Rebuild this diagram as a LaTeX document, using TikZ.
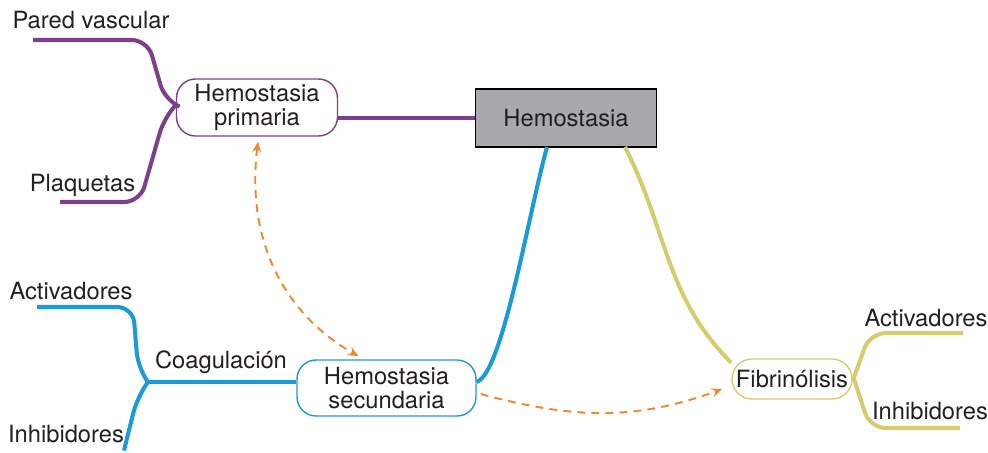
\documentclass[tikz,border=0pt]{standalone}
\usepackage{fontspec}
\setmainfont{TeX Gyre Heros}
\usepackage{tikz}
\usetikzlibrary{arrows.meta,calc}

\definecolor{hpurple}{HTML}{7D3F8C}
\definecolor{hblue}{HTML}{1A9AD7}
\definecolor{holive}{HTML}{D6CC6E}
\definecolor{horange}{HTML}{F5862A}
\definecolor{hgray}{HTML}{A7A9AC}
\definecolor{htext}{HTML}{231F20}

\begin{document}
\begin{tikzpicture}[>={Stealth[length=6pt,width=5pt]},
    txt/.style={text=htext, font=\fontsize{13.5}{14}\selectfont, inner sep=0pt},
    hbox/.style={txt, draw=#1, line width=0.8pt, align=center, rounded corners=0.38cm},
    branch/.style={draw=#1, line width=2.3pt, rounded corners=9pt},
    link/.style={horange, line width=1.1pt, dash pattern=on 4.5pt off 3.5pt}
  ]

    %% Background
    \draw[draw=none] (0,0) rectangle (19.76,8.96);

  % Cajas
  \node[txt, draw=black, fill=hgray, line width=0.7pt, minimum width=3.62cm, minimum height=1.16cm] (hemo) at (11.32,6.60) {Hemostasia};
  \node[hbox=hpurple, minimum width=3.22cm, minimum height=1.14cm] (prim) at (5.14,6.81) {Hemostasia\\primaria};
  \node[hbox=hblue, minimum width=3.58cm, minimum height=1.12cm] (sec) at (7.73,1.20) {Hemostasia\\secundaria};
  \node[hbox=holive, minimum width=2.4cm, minimum height=0.8cm, rounded corners=0.4cm] (fib) at (15.84,1.38) {Fibrinólisis};

  % Textos
  \node[txt] (pared) at (1.82,8.56) {Pared vascular};
  \node[txt] (plaq) at (1.65,5.26) {Plaquetas};
  \node[txt] (actl) at (1.42,3.14) {Activadores};
  \node[txt] (inhl) at (1.32,0.28) {Inhibidores};
  \node[txt] (coag) at (4.42,1.72) {Coagulación};
  \node[txt] (actr) at (18.52,2.60) {Activadores};
  \node[txt] (inhr) at (18.60,0.74) {Inhibidores};

  % Hemostasia primaria
  \coordinate (pj) at ($(prim.west)+(0,0.05)$);
  \draw[branch=hpurple] (prim.east |- hemo) -- (hemo.west);
  \draw[branch=hpurple] (0.66,8.16) -- (2.95,8.16) -- (3.3,6.95) -- (pj);
  \draw[branch=hpurple] (1.2,4.92) -- (2.8,4.92) -- (3.28,6.6) -- (pj);

  % Hemostasia secundaria
  \coordinate (cj) at (2.96,1.32);
  \draw[branch=hblue] (cj) -- (sec.west |- cj);
  \draw[branch=hblue] (0.74,2.82) -- (2.66,2.82) -- (2.76,1.6) -- (cj);
  \draw[branch=hblue] (2.48,-0.05) -- (2.74,1.0) -- (cj);
  \draw[hblue, line width=2.3pt] (10.94,6.02) .. controls (10.55,4.6) and (10.05,1.5) .. (sec.east |- cj);

  % Fibrinolisis
  \coordinate (fj) at ($(fib.east)+(0.02,0.02)$);
  \draw[holive, line width=2.3pt] (12.5,6.02) to[out=-63,in=135] (fib.165);
  \draw[branch=holive] (fj) -- (17.4,2.3) -- (19.26,2.3);
  \draw[branch=holive] (fj) -- (17.4,0.4) -- (19.2,0.4);

  % Relaciones
  \draw[link, <->] ($(prim.south)+(0.02,-0.1)$) to[out=-97,in=150] ($(sec.north)+(-0.56,0.06)$);
  \draw[link, ->] ($(sec.east)+(0.08,-0.12)$) to[out=-15,in=200] ($(fib.west)+(-0.18,-0.2)$);

\end{tikzpicture}
\end{document}
